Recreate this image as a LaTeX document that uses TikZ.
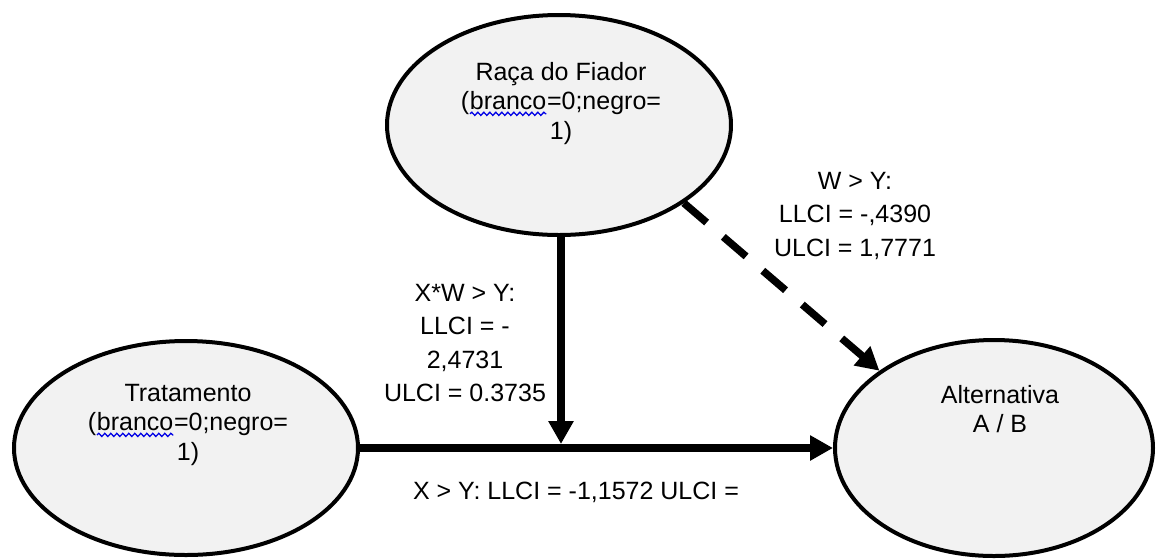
\documentclass[tikz,border=0pt]{standalone}
\usepackage{fontspec}
\setmainfont{Liberation Sans}
\usetikzlibrary{arrows.meta,shapes.geometric,decorations.pathmorphing}

% word with a wavy blue underline
\newcommand\wavyword[1]{\tikz[baseline=(w.base)]{%
  \node[inner sep=0pt,outer sep=0pt,anchor=base] (w) {#1};
  \draw[blue!90!black,line width=1.3pt,decorate,
        decoration={snake,amplitude=1.6pt,segment length=6pt}]
    ([yshift=-4pt]w.base west) -- ([yshift=-4pt]w.base east);}}

\tikzset{
  var/.style={ellipse,draw=black,line width=4pt,fill=gray!10,
              inner sep=0pt,minimum width=#1},
  vartext/.style={anchor=north,inner sep=0pt,align=center,
                  font=\fontsize{25}{29.5}\selectfont},
  pathlabel/.style={anchor=north,inner sep=0pt,align=center,
                    font=\fontsize{25}{33.5}\selectfont},
  effect/.style={line width=7.5pt,-{Triangle[length=23pt,width=24pt]}},
  weakeffect/.style={effect,dash pattern=on 30pt off 22pt}
}

\begin{document}
\begin{tikzpicture}[x=1pt,y=-1pt]
  \useasboundingbox (0,0) rectangle (1157,558);

  % variables
  \node[var=344pt,minimum height=220pt] (rac) at (559,125) {};
  \node[var=344pt,minimum height=214pt] (trt) at (186,448) {};
  \node[var=318pt,minimum height=216pt] (alt) at (994,448) {};

  \node[vartext] (racT) at (561,62) {Raça do Fiador\\(\wavyword{branco}=0;negro=\\1)};
  \node[vartext] (trtT) at (188,384) {Tratamento\\(\wavyword{branco}=0;negro=\\1)};
  \node[vartext] (altT) at (1000,385) {Alternativa\\A / B};

  % paths
  \coordinate (meet) at (561,444);
  \draw[effect] (trt.east) -- (alt.west);
  \draw[effect] (rac.south -| meet) -- (meet);
  \draw[weakeffect] (rac.-32) -- (alt.146);

  % path estimates
  \node[pathlabel] (xwy) at (465,284) {X*W > Y:\\LLCI = -\\2,4731\\ULCI = 0.3735};
  \node[pathlabel] (wy) at (855,172) {W > Y:\\LLCI = -,4390\\ULCI = 1,7771};
  \node[anchor=base,inner sep=0pt,font=\fontsize{25}{30}\selectfont] (xy) at (576,499)
    {X > Y: LLCI = -1,1572 ULCI =};
\end{tikzpicture}
\end{document}
